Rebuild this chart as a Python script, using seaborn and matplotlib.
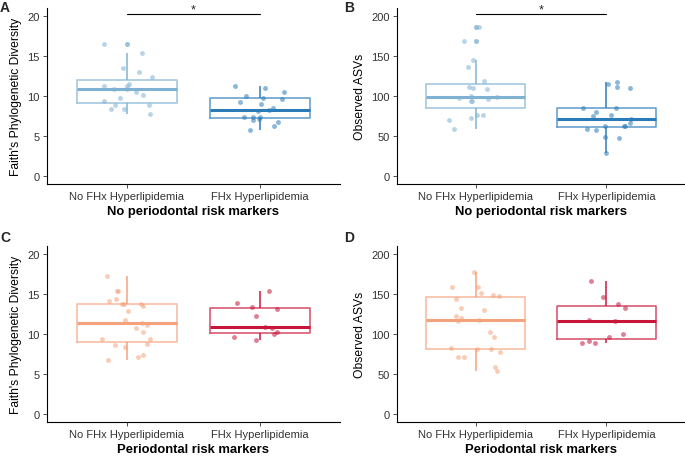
import numpy as np
import pandas as pd
import matplotlib.pyplot as plt
import seaborn as sns

# DATA
groups = ['No FHx Hyperlipidemia', 'FHx Hyperlipidemia']

# no periodontal risk markers
faith_norisk_nofhx = [16.5, 15.42, 13.54, 13.0, 12.42, 11.54, 11.25, 11.2, 10.88, 10.83,
                      10.5, 10.08, 9.75, 9.38, 8.88, 8.88, 8.42, 8.42, 7.71]
faith_norisk_fhx = [11.25, 10.96, 10.54, 9.96, 9.75, 9.67, 9.21, 8.96, 8.46, 8.29,
                    8.13, 7.38, 7.38, 7.38, 7.13, 6.96, 6.79, 6.29, 5.71]
asv_norisk_nofhx = [186.7, 168.8, 144.6, 136.7, 119.2, 111.7, 110.0, 108.3, 100.0, 98.3,
                    97.1, 95.8, 94.2, 93.3, 76.7, 75.8, 72.1, 69.6, 58.8]
asv_norisk_fhx = [117.5, 115.0, 110.8, 110.0, 85.0, 85.0, 80.0, 76.7, 74.6, 71.7,
                  66.3, 62.1, 62.1, 62.1, 59.2, 57.5, 49.2, 47.9, 28.8]

# periodontal risk markers
faith_risk_nofhx = [17.17, 15.38, 15.38, 14.29, 14.13, 13.71, 13.71, 13.71, 13.42, 12.83,
                    11.67, 11.38, 11.08, 10.75, 10.17, 9.29, 9.29, 8.75, 8.58, 8.33,
                    7.38, 7.08, 6.67]
faith_risk_fhx = [15.29, 13.83, 13.38, 13.13, 12.21, 10.88, 10.71, 10.25, 9.92, 9.54, 9.21]
asv_risk_nofhx = [176.7, 158.3, 158.3, 151.3, 148.3, 147.1, 143.8, 132.1, 129.2, 121.7,
                  119.6, 117.5, 115.8, 102.1, 96.3, 81.7, 80.8, 80.4, 76.7, 71.3,
                  70.4, 57.9, 53.8]
asv_risk_fhx = [166.3, 146.3, 136.7, 132.1, 116.7, 115.4, 99.6, 96.3, 91.3, 88.8, 87.9]

blues = ['#7fb2d2', '#2b7bb9']
reds = ['#f4a27c', '#c8153a']


def make_df(a, b):
    return pd.DataFrame({
        'group': [groups[0]] * len(a) + [groups[1]] * len(b),
        'value': a + b,
    })


sns.set_style('white')
plt.rcParams['font.family'] = ['Liberation Sans', 'DejaVu Sans']

fig = plt.figure(figsize=(6.85, 4.6), dpi=100)

panels = [
    ('A', (0.0, 0.997), [0.0682, 0.5978, 0.4282, 0.3826],
     make_df(faith_norisk_nofhx, faith_norisk_fhx),
     blues, "Faith's Phylogenetic Diversity", 'No periodontal risk markers', 20, True),
    ('B', (0.503, 0.997), [0.5796, 0.5978, 0.4204, 0.3826],
     make_df(asv_norisk_nofhx, asv_norisk_fhx),
     blues, 'Observed ASVs', 'No periodontal risk markers', 200, True),
    ('C', (0.0, 0.497), [0.0682, 0.0811, 0.4282, 0.3826],
     make_df(faith_risk_nofhx, faith_risk_fhx),
     reds, "Faith's Phylogenetic Diversity", 'Periodontal risk markers', 20, False),
    ('D', (0.503, 0.497), [0.5796, 0.0811, 0.4204, 0.3826],
     make_df(asv_risk_nofhx, asv_risk_fhx),
     reds, 'Observed ASVs', 'Periodontal risk markers', 200, False),
]

np.random.seed(7)

for letter, lpos, rect, df, pal, ylab, xlab, top, signif in panels:
    ax = fig.add_axes(rect)
    for g, c in zip(groups, pal):
        sub = df[df['group'] == g]
        sns.boxplot(
            data=sub, x='group', y='value', order=groups,
            color=c, fill=False, width=0.75, linewidth=1.2,
            showcaps=False,
            boxprops=dict(alpha=0.7),
            whiskerprops=dict(alpha=0.9),
            medianprops=dict(linewidth=2.2),
            flierprops=dict(marker='o', markersize=3.6, markerfacecolor=c,
                            markeredgewidth=0, alpha=0.8),
            ax=ax
        )
        sns.stripplot(
            data=sub, x='group', y='value', order=groups,
            color=c, size=3.5, jitter=0.2, alpha=0.55, linewidth=0,
            ax=ax
        )
    ax.set_xlim(-0.6, 1.6)
    ax.set_ylim(-top * 0.05, top * 1.05)
    ax.set_yticks(np.linspace(0, top, 5))
    ax.set_ylabel(ylab, fontsize=8.7, color='black')
    ax.set_xlabel(xlab, fontsize=9.4, fontweight='bold', color='black', labelpad=3)
    ax.tick_params(axis='both', labelsize=8, colors='#333333', length=3, width=0.6,
                   direction='out', bottom=True, left=True, pad=2)
    for side in ['top', 'right']:
        ax.spines[side].set_visible(False)
    for side in ['left', 'bottom']:
        ax.spines[side].set_color('black')
        ax.spines[side].set_linewidth(0.8)
    if signif:
        ax.plot([0, 1], [top * 1.01, top * 1.01], color='black', lw=0.8)
        ax.text(0.5, top * 1.005, '*', ha='center', va='bottom', fontsize=9)
    fig.text(lpos[0], lpos[1], letter,
             fontsize=10, fontweight='bold', va='top', ha='left')

fig.savefig('out.png', dpi=100)
